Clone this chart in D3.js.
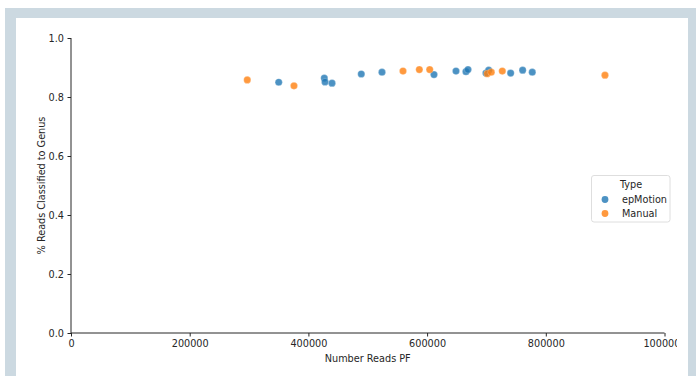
<!DOCTYPE html>
<html>
<head>
<meta charset="utf-8">
<script src="https://cdn.jsdelivr.net/npm/d3@7"></script>
<style>
body{margin:0;background:#fff;}
text{font-family:"DejaVu Sans",sans-serif;fill:#262626;}
</style>
</head>
<body>
<svg id="chart"></svg>
<script>
// values
var epMotionReads=[350000,426800,428000,439800,489100,524000,611600,648700,665500,668900,699200,703800,740800,761000,777200];
var epMotionGenus=[0.850,0.864,0.851,0.847,0.878,0.884,0.876,0.888,0.886,0.893,0.881,0.891,0.881,0.891,0.884];
var manualReads=[297000,375700,559400,586900,604400,701400,708100,726700,899700];
var manualGenus=[0.858,0.838,0.888,0.893,0.893,0.879,0.884,0.888,0.874];
var types=["epMotion","Manual"];
var xTicks=[0,200000,400000,600000,800000,1000000];
var yTicks=[0.0,0.2,0.4,0.6,0.8,1.0];

var w=696;
var h=376;
var margin={
  top:38,
  bottom:43,
  left:71,
  right:31.5
}
var color=d3.scaleOrdinal()
            .domain(types)
            .range(["#1f77b4","#ff7f0e"]);

var xScale=d3.scaleLinear()
             .domain([0,1000000])
             .range([margin.left,w-margin.right]);
var yScale=d3.scaleLinear()
             .domain([0,1])
             .range([h-margin.bottom,margin.top]);

var svg=d3.select("#chart")
          .attr("width",w)
          .attr("height",h);

// page frame
svg.append("rect").attr("x",5).attr("y",8).attr("width",w-5).attr("height",h-8).attr("fill","#ccd9e1");
svg.append("rect").attr("x",16).attr("y",18).attr("width",672).attr("height",h-18).attr("fill","#fff");

// the figure image ends a little before the white panel does
svg.append("clipPath").attr("id","fig")
   .append("rect").attr("x",0).attr("y",0).attr("width",677).attr("height",h);
var fig=svg.append("g").attr("clip-path","url(#fig)");

var fmt=function(d){return d.toFixed(1);};

var xAxis=d3.axisBottom(xScale)
            .tickValues(xTicks)
            .tickFormat(d3.format("d"))
            .tickSize(3.5)
            .tickPadding(3.5);
var yAxis=d3.axisLeft(yScale)
            .tickValues(yTicks)
            .tickFormat(fmt)
            .tickSize(3.5)
            .tickPadding(3.5);

var gx=fig.append("g")
   .attr("transform","translate(0,"+(h-margin.bottom)+")")
   .call(xAxis);
var gy=fig.append("g")
   .attr("transform","translate("+margin.left+",0)")
   .call(yAxis);

[gx,gy].forEach(function(g){
  g.selectAll(".domain").attr("stroke","#262626").attr("stroke-width",1);
  g.selectAll(".tick line").attr("stroke","#262626").attr("stroke-width",1);
  g.selectAll(".tick text").attr("fill","#262626").style("font-size","9.7px").style("font-family","DejaVu Sans");
});
gx.select(".domain").attr("d","M"+xScale(0)+",0H"+xScale(1000000));
gy.select(".domain").attr("d","M0,"+yScale(0)+"V"+yScale(1));

fig.append("text")
   .attr("x",(xScale(0)+xScale(1000000))/2)
   .attr("y",h-14)
   .attr("text-anchor","middle")
   .style("font-size","9.7px")
   .text("Number Reads PF");

fig.append("text")
   .attr("transform","translate(45,"+((yScale(0)+yScale(1))/2)+") rotate(-90)")
   .attr("text-anchor","middle")
   .style("font-size","9.7px")
   .text("% Reads Classified to Genus");

var points=[];
epMotionReads.forEach(function(d,i){points.push({reads:d,genus:epMotionGenus[i],type:"epMotion"});});
manualReads.forEach(function(d,i){points.push({reads:d,genus:manualGenus[i],type:"Manual"});});

fig.append("g")
   .selectAll("circle")
   .data(points)
   .enter()
   .append("circle")
   .attr("cx",function(d){return xScale(d.reads);})
   .attr("cy",function(d){return yScale(d.genus);})
   .attr("r",3.6)
   .attr("fill",function(d){return color(d.type);})
   .attr("fill-opacity",0.8)
   .attr("stroke","#fff")
   .attr("stroke-opacity",0.6)
   .attr("stroke-width",0.4);

// legend
var legend=fig.append("g").attr("transform","translate(591.5,175.5)");
legend.append("rect")
      .attr("width",78.5)
      .attr("height",46.5)
      .attr("rx",2.5)
      .attr("fill","#fff")
      .attr("fill-opacity",0.8)
      .attr("stroke","#d6d6d6")
      .attr("stroke-width",0.8);
legend.append("text")
      .attr("x",39.5)
      .attr("y",12.5)
      .attr("text-anchor","middle")
      .style("font-size","9.7px")
      .text("Type");
var item=legend.selectAll("g.item")
      .data(types)
      .enter()
      .append("g")
      .attr("class","item")
      .attr("transform",function(d,i){return "translate(0,"+(24+i*14)+")";});
item.append("circle")
    .attr("cx",13.5)
    .attr("r",3.4)
    .attr("fill",function(d){return color(d);})
    .attr("fill-opacity",0.8);
item.append("text")
    .attr("x",30.5)
    .attr("y",3.5)
    .style("font-size","9.7px")
    .text(function(d){return d;});
</script>
</body>
</html>
